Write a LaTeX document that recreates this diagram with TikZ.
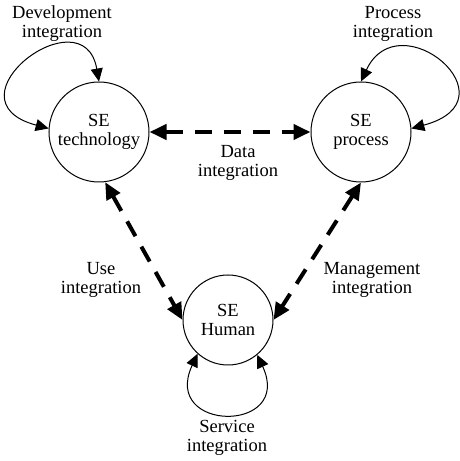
\documentclass[tikz,border=0pt]{standalone}
\usepackage{fontspec}
\setmainfont{Liberation Serif}
\usetikzlibrary{arrows.meta}
\begin{document}
\begin{tikzpicture}[x=1pt,y=1pt,
  every node/.style={font=\fontsize{18.5}{19}\selectfont, align=center},
  entity/.style={circle, draw, line width=1pt, inner sep=0pt},
  flow/.style={line width=4pt, dash pattern=on 17pt off 12pt,
    {Triangle[length=17pt,width=15pt]}-{Triangle[length=17pt,width=15pt]}},
  selfloop/.style={line width=1pt,
    {Triangle[length=13pt,width=12pt]}-{Triangle[length=13pt,width=12pt]}},
  lbl/.style={inner sep=0pt}]
\useasboundingbox (0,0) rectangle (459,461);
\node[entity, minimum size=100pt] (tech) at (99,329) {SE\\technology};
\node[entity, minimum size=100pt] (proc) at (361,329) {SE\\process};
\node[entity, minimum size=90pt] (human) at (228,141) {SE\\Human};

\draw[flow] (tech) -- (proc);
\draw[flow] (tech.-83) -- (human.west);
\draw[flow] (proc.south) -- (human.east);

\draw[selfloop] (tech.176) to[out=165, in=100, out distance=110pt, in distance=90pt] (tech.north);
\draw[selfloop] (proc.north) to[out=65, in=15, out distance=90pt, in distance=110pt] (proc.4);
\draw[selfloop] (human.-132) to[out=-115, in=-65, out distance=87pt, in distance=87pt] (human.-50);

\node[lbl] (ldev) at (62,437) {Development\\integration};
\node[lbl] (lproc) at (393,437) {Process\\integration};
\node[lbl] (ldata) at (238,298) {Data\\integration};
\node[lbl] (luse) at (101,181) {Use\\integration};
\node[lbl] (lman) at (372,181) {Management\\integration};
\node[lbl] (lserv) at (227,23) {Service\\integration};
\end{tikzpicture}
\end{document}
